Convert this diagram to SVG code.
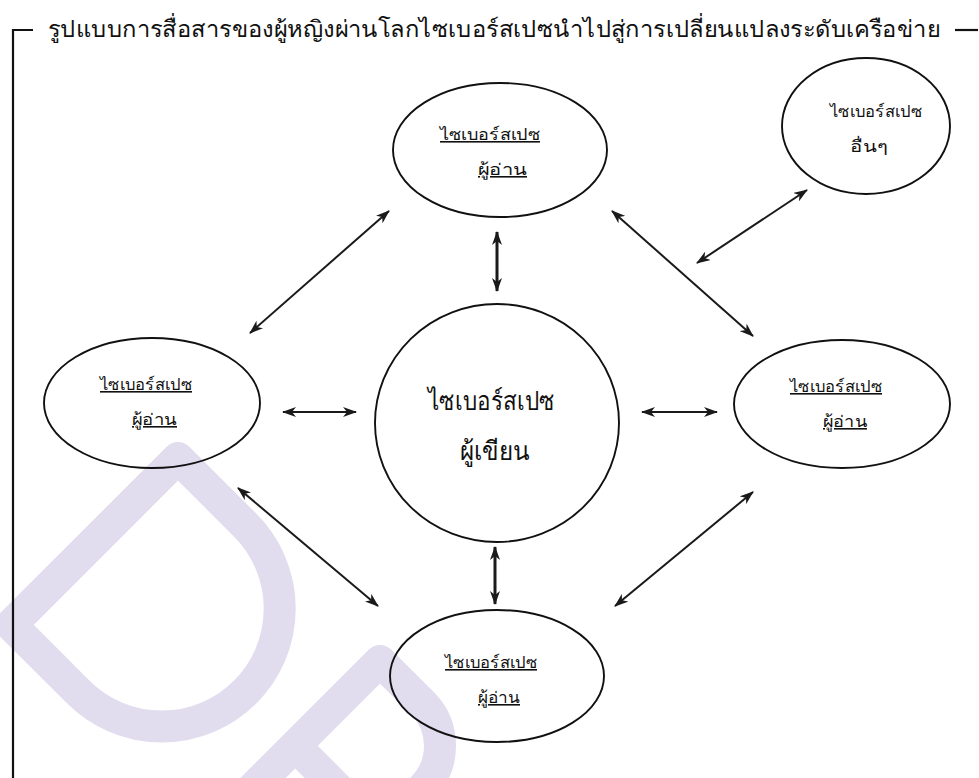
<svg xmlns="http://www.w3.org/2000/svg" width="979" height="778" viewBox="0 0 979 778">
<style>
  .bg { fill: #ffffff; }
  .wm { fill: none; stroke: #e1dcee; stroke-width: 32; stroke-linejoin: round; }
  .frame { fill: none; stroke: #111; stroke-width: 2.2; }
  .node { fill: none; stroke: #111; stroke-width: 1.9; }
  .conn { fill: none; stroke: #1a1a1a; stroke-width: 2; }
  .connv { fill: none; stroke: #1a1a1a; stroke-width: 3; }
  .t { font-family: "DejaVu Sans", "Noto Sans", sans-serif; fill: #111; }
  .title { font-size: 23px; }
  .lbl { font-size: 16px; }
  .u { text-decoration: underline; }
  .big { font-size: 26px; }
</style>
<defs>
  <marker id="ah" viewBox="0 0 14 10" refX="13" refY="5" markerWidth="14" markerHeight="10" markerUnits="userSpaceOnUse" orient="auto-start-reverse">
    <path d="M0,0 L14,5 L0,10 L4,5 Z" fill="#1a1a1a"/>
  </marker>
</defs>
<rect class="bg" x="0" y="0" width="979" height="778"/>

<g id="watermark">
  <path class="wm" transform="translate(178,458) rotate(45)" d="M0,0 H95 A118 118 0 0 1 95 236 H0 Z"/>
  <path class="wm" transform="translate(380,661) rotate(45)" d="M0,300 V0 H60 A60 60 0 0 1 60 120 H0"/>
</g>

<g id="frame">
  <path class="frame" d="M13,778 V30 H33"/>
  <line class="frame" x1="955" y1="30" x2="978" y2="30"/>
  <text class="t title" x="48" y="37" textLength="892" lengthAdjust="spacingAndGlyphs">รูปแบบการสื่อสารของผู้หญิงผ่านโลกไซเบอร์สเปซนำไปสู่การเปลี่ยนแปลงระดับเครือข่าย</text>
</g>

<g id="connectors">
  <line class="conn" x1="389" y1="211" x2="250" y2="333" marker-start="url(#ah)" marker-end="url(#ah)"/>
  <line class="connv" x1="497" y1="232" x2="497" y2="291" marker-start="url(#ah)" marker-end="url(#ah)"/>
  <line class="conn" x1="612" y1="211" x2="753" y2="336" marker-start="url(#ah)" marker-end="url(#ah)"/>
  <line class="conn" x1="807" y1="190" x2="697" y2="263" marker-start="url(#ah)" marker-end="url(#ah)"/>
  <line class="conn" x1="283" y1="412" x2="356" y2="412" marker-start="url(#ah)" marker-end="url(#ah)"/>
  <line class="conn" x1="642" y1="412" x2="717" y2="412" marker-start="url(#ah)" marker-end="url(#ah)"/>
  <line class="conn" x1="238" y1="488" x2="378" y2="606" marker-start="url(#ah)" marker-end="url(#ah)"/>
  <line class="connv" x1="495" y1="547" x2="495" y2="604" marker-start="url(#ah)" marker-end="url(#ah)"/>
  <line class="conn" x1="753" y1="492" x2="615" y2="606" marker-start="url(#ah)" marker-end="url(#ah)"/>
</g>

<g id="node-top">
  <ellipse class="node" cx="500" cy="150" rx="107" ry="67"/>
  <text class="t lbl u" x="440" y="140" textLength="100" lengthAdjust="spacingAndGlyphs">ไซเบอร์สเปซ</text>
  <text class="t lbl u" x="478" y="175" textLength="49" lengthAdjust="spacingAndGlyphs">ผู้อ่าน</text>
</g>

<g id="node-other">
  <ellipse class="node" cx="866" cy="126" rx="84" ry="68"/>
  <text class="t lbl" x="830" y="117" textLength="92" lengthAdjust="spacingAndGlyphs">ไซเบอร์สเปซ</text>
  <text class="t lbl" x="850" y="152" textLength="38" lengthAdjust="spacingAndGlyphs">อื่นๆ</text>
</g>

<g id="node-left">
  <ellipse class="node" cx="152" cy="403" rx="108" ry="65"/>
  <text class="t lbl u" x="100" y="390" textLength="92" lengthAdjust="spacingAndGlyphs">ไซเบอร์สเปซ</text>
  <text class="t lbl u" x="132" y="425" textLength="45" lengthAdjust="spacingAndGlyphs">ผู้อ่าน</text>
</g>

<g id="node-center">
  <ellipse class="node" cx="497" cy="423" rx="122" ry="119"/>
  <text class="t big" x="428" y="410" textLength="127" lengthAdjust="spacingAndGlyphs">ไซเบอร์สเปซ</text>
  <text class="t big" x="460" y="460" textLength="70" lengthAdjust="spacingAndGlyphs">ผู้เขียน</text>
</g>

<g id="node-right">
  <ellipse class="node" cx="842" cy="404" rx="108" ry="64"/>
  <text class="t lbl u" x="790" y="392" textLength="92" lengthAdjust="spacingAndGlyphs">ไซเบอร์สเปซ</text>
  <text class="t lbl u" x="823" y="427" textLength="44" lengthAdjust="spacingAndGlyphs">ผู้อ่าน</text>
</g>

<g id="node-bottom">
  <ellipse class="node" cx="497" cy="676" rx="107" ry="66"/>
  <text class="t lbl u" x="445" y="668" textLength="92" lengthAdjust="spacingAndGlyphs">ไซเบอร์สเปซ</text>
  <text class="t lbl u" x="478" y="703" textLength="42" lengthAdjust="spacingAndGlyphs">ผู้อ่าน</text>
</g>
</svg>
